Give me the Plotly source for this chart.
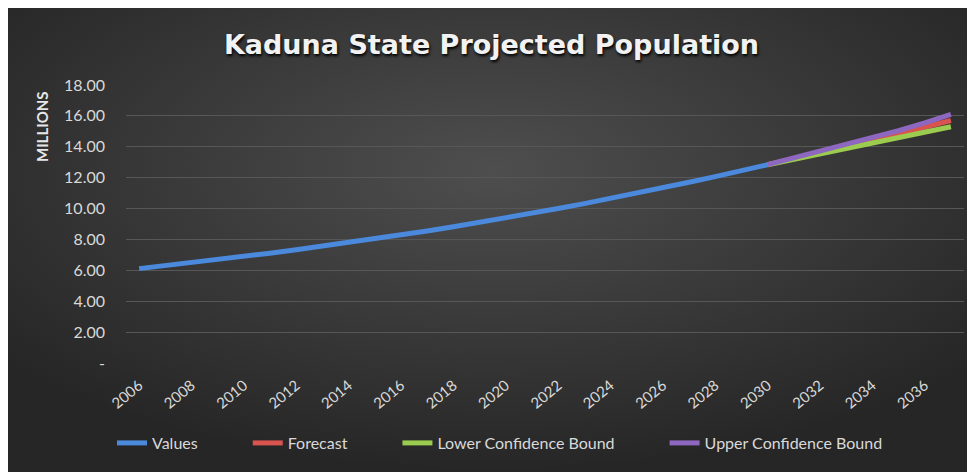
import base64
import plotly.graph_objects as go

# historical / estimated population (millions)
years = list(range(2006, 2031))
values = [6.11, 6.30, 6.49, 6.69, 6.90, 7.11, 7.33, 7.56, 7.80, 8.04, 8.29, 8.55, 8.82,
          9.10, 9.39, 9.69, 10.00, 10.32, 10.65, 10.99, 11.34, 11.70, 12.07, 12.45, 12.84]

# forecast part
fc_years = list(range(2030, 2038))
forecast = [12.84, 13.22, 13.61, 14.01, 14.42, 14.84, 15.27, 15.70]
lower = [12.84, 13.18, 13.53, 13.88, 14.23, 14.58, 14.94, 15.30]
upper = [12.84, 13.27, 13.70, 14.14, 14.59, 15.05, 15.55, 16.10]

xticks = list(range(2006, 2037, 2))
yticks = [0, 2, 4, 6, 8, 10, 12, 14, 16, 18]
yticktext = ["-"] + ["%.2f" % v for v in yticks[1:]]

# page body has an 8px margin, so the figure is a bit smaller than the window
W, H = 967, 464
L, R, T, B = 118, 11, 77, 109
pw, ph = W - L - R, H - T - B

# dark radial background like the excel chart style
svg = ('<svg xmlns="http://www.w3.org/2000/svg" width="967" height="464" preserveAspectRatio="none">'
       '<defs><radialGradient id="g" cx="50%" cy="35%" r="65%">'
       '<stop offset="0%" stop-color="#4e4e4e"/><stop offset="100%" stop-color="#262626"/>'
       '</radialGradient></defs><rect width="967" height="464" fill="url(#g)"/></svg>')
bg = "data:image/svg+xml;base64," + base64.b64encode(svg.encode()).decode()

pad = "\u00a0" * 11

fig = go.Figure()
fig.add_trace(go.Scatter(x=years, y=values, name="Values" + pad, mode="lines",
                         line=dict(color="#4a89dc", width=5)))
fig.add_trace(go.Scatter(x=fc_years, y=forecast, name="Forecast" + pad, mode="lines",
                         line=dict(color="#d9534f", width=5)))
fig.add_trace(go.Scatter(x=fc_years, y=lower, name="Lower Confidence Bound" + pad, mode="lines",
                         line=dict(color="#9bcb4f", width=5)))
fig.add_trace(go.Scatter(x=fc_years, y=upper, name="Upper Confidence Bound", mode="lines",
                         line=dict(color="#8e67c0", width=5)))

fig.update_layout(
    width=W, height=H,
    margin=dict(l=L, r=R, t=T, b=B),
    paper_bgcolor="#2c2c2c",
    plot_bgcolor="rgba(0,0,0,0)",
    font=dict(family="Lato", color="#d9d9d9", size=15),
    title=dict(text="<b>Kaduna State Projected Population</b>", x=0.5, xref="container",
               y=1 - 37 / H, yref="container", yanchor="middle",
               font=dict(family="DejaVu Sans", size=27, color="#f2f2f2",
                         shadow="1px 2px 3px #000")),
    images=[dict(source=bg, xref="paper", yref="paper",
                 x=-L / pw, y=1 + T / ph,
                 sizex=W / pw, sizey=H / ph,
                 xanchor="left", yanchor="top", sizing="stretch", layer="below")],
    xaxis=dict(range=[2005.5, 2037.5], tickvals=xticks, tickangle=-40,
               showgrid=False, zeroline=False, showline=False, ticks="",
               ticklabelstandoff=10, tickfont=dict(size=15)),
    yaxis=dict(range=[0, 18], tickvals=yticks, ticktext=yticktext,
               showgrid=True, gridcolor="#575757", gridwidth=1, zeroline=False,
               ticks="", ticklabelstandoff=20, tickfont=dict(size=16)),
    legend=dict(orientation="h", xref="container", x=492 / W, xanchor="center",
                yref="container", y=1 - 435 / H, yanchor="middle",
                font=dict(size=16, color="#d9d9d9"), bgcolor="rgba(0,0,0,0)"),
    showlegend=True,
    annotations=[dict(text="<b>MILLIONS</b>", textangle=-90, xref="paper", yref="paper",
                      x=(34 - L) / pw, y=1 - (119 - T) / ph, showarrow=False,
                      xanchor="center", yanchor="middle",
                      font=dict(family="Lato", size=15, color="#e6e6e6"))],
)

fig.write_html("out.html")
